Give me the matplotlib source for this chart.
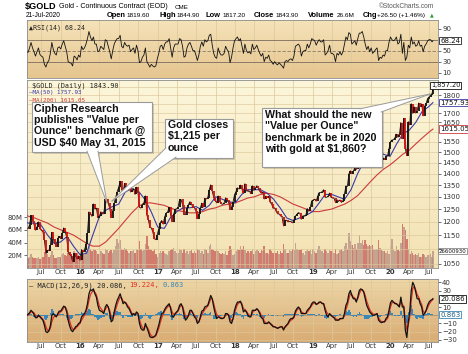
import matplotlib
matplotlib.use('Agg')
import matplotlib.pyplot as plt
import matplotlib.dates as mdates
from matplotlib.colors import LinearSegmentedColormap
from matplotlib.patches import Polygon, Rectangle
from matplotlib.ticker import FixedLocator, NullLocator
import numpy as np
import pandas as pd

# ---- data (weekly, Friday; last point is 21-Jul-2020) ----
close = [
    # 2015
    1175,
    1174, 1188, 1225, 1205, 1190,
    1168, 1180, 1200, 1173,
    1168, 1163, 1131, 1085, 1095,
    1094, 1113, 1160, 1134,
    1121, 1108, 1138, 1145,
    1137, 1156, 1177, 1163, 1142,
    1088, 1081, 1076, 1056,
    1085, 1076, 1065, 1076,
    # 2016
    1061, 1098, 1089, 1097, 1116,
    1158, 1239, 1231, 1221,
    1271, 1250, 1254, 1216,
    1221, 1239, 1235, 1231, 1290,
    1290, 1273, 1252, 1216,
    1242, 1275, 1297, 1322,
    1340, 1366, 1329, 1322, 1357,
    1344, 1342, 1346, 1320,
    1327, 1334, 1310, 1341, 1317,
    1257, 1254, 1267, 1276,
    1304, 1225, 1208, 1178,
    1177, 1161, 1137, 1133, 1152,
    # 2017
    1173, 1197, 1205, 1191,
    1220, 1234, 1239, 1257,
    1226, 1201, 1229, 1249, 1251,
    1257, 1289, 1289, 1268,
    1228, 1228, 1254, 1268,
    1280, 1271, 1256, 1256, 1242,
    1212, 1229, 1255, 1274,
    1258, 1294, 1291, 1297,
    1330, 1351, 1324, 1297, 1284,
    1275, 1304, 1280, 1272,
    1269, 1275, 1296, 1288,
    1280, 1248, 1257, 1278, 1309,
    # 2018
    1322, 1338, 1333, 1350,
    1333, 1315, 1356, 1330,
    1323, 1324, 1313, 1347, 1327,
    1336, 1347, 1336, 1323,
    1315, 1320, 1291, 1303,
    1297, 1302, 1278, 1270, 1253,
    1255, 1241, 1231, 1231,
    1223, 1219, 1184, 1206, 1206,
    1200, 1201, 1201, 1196,
    1207, 1222, 1229, 1236,
    1233, 1210, 1223, 1223, 1226,
    1252, 1241, 1258, 1283,
    # 2019
    1287, 1290, 1282, 1303,
    1318, 1318, 1322, 1330,
    1298, 1298, 1302, 1316, 1298,
    1295, 1295, 1276, 1288,
    1281, 1287, 1277, 1284, 1311,
    1346, 1344, 1399, 1413,
    1400, 1412, 1426, 1419,
    1457, 1509, 1523, 1537, 1529,
    1515, 1506, 1515, 1497,
    1512, 1489, 1494, 1505,
    1514, 1462, 1468, 1463, 1473,
    1465, 1481, 1481, 1515,
    # 2020
    1552, 1560, 1560, 1571, 1589,
    1573, 1586, 1649, 1566,
    1672, 1516, 1484, 1654,
    1637, 1752, 1698, 1735,
    1700, 1713, 1756, 1735, 1751,
    1685, 1737, 1753, 1781,
    1790, 1801, 1810, 1843.9,
]

volume_m = [
    # 2015
    14,
    16, 18, 22, 17, 15,
    16, 15, 18, 14,
    15, 17, 25, 32, 22,
    18, 20, 26, 20,
    16, 15, 18, 17,
    18, 22, 24, 20, 19,
    24, 22, 20, 18,
    26, 20, 24, 14,
    # 2016
    18, 24, 22, 20, 26,
    28, 38, 30, 26,
    30, 28, 26, 22,
    22, 26, 24, 22, 30,
    28, 24, 26, 28,
    24, 28, 34, 45,
    40, 44, 30, 28, 32,
    30, 26, 24, 26,
    26, 28, 24, 30, 28,
    42, 30, 26, 28,
    38, 50, 34, 30,
    28, 26, 30, 22, 18,
    # 2017
    24, 26, 24, 26,
    24, 22, 20, 26,
    28, 30, 32, 26, 24,
    24, 30, 28, 24,
    30, 24, 26, 22,
    26, 28, 24, 26, 24,
    30, 28, 24, 26,
    22, 30, 28, 24,
    34, 38, 30, 28, 26,
    28, 26, 24, 22,
    24, 22, 26, 20,
    26, 34, 30, 20, 22,
    # 2018
    26, 30, 28, 34,
    30, 34, 28, 24,
    26, 24, 26, 30, 22,
    26, 28, 26, 24,
    28, 26, 34, 24,
    24, 22, 30, 26, 24,
    26, 24, 26, 22,
    26, 24, 38, 30, 24,
    24, 28, 26, 30,
    28, 40, 30, 28,
    28, 30, 24, 20, 26,
    30, 26, 28, 22,
    # 2019
    30, 26, 24, 30,
    34, 28, 26, 24,
    30, 26, 24, 28, 26,
    26, 24, 30, 22,
    24, 28, 30, 26, 34,
    40, 30, 55, 42,
    36, 32, 38, 30,
    40, 52, 40, 44, 36,
    44, 38, 34, 36,
    34, 36, 30, 28,
    30, 44, 32, 28, 26,
    26, 24, 26, 22,
    # 2020
    34, 46, 30, 26, 34,
    28, 26, 40, 70,
    64, 60, 46, 30,
    22, 26, 24, 20,
    22, 20, 24, 18, 18,
    22, 20, 18, 20,
    20, 22, 18, 26.6,
]

rsi = [
    # 2015
    48,
    47, 55, 65, 55, 48,
    40, 48, 55, 43,
    40, 38, 25, 20, 28,
    32, 45, 65, 52,
    45, 42, 55, 57,
    53, 62, 68, 58, 48,
    30, 28, 27, 22,
    40, 38, 33, 42,
    # 2016
    38, 58, 52, 55, 62,
    72, 85, 75, 68,
    75, 62, 62, 48,
    50, 58, 55, 52, 70,
    68, 58, 48, 35,
    50, 62, 68, 72,
    72, 78, 58, 55, 65,
    60, 58, 60, 48,
    52, 55, 45, 60, 50,
    28, 30, 38, 42,
    55, 30, 25, 20,
    25, 22, 20, 22, 35,
    # 2017
    45, 58, 60, 52,
    62, 66, 66, 72,
    55, 38, 55, 62, 62,
    62, 72, 70, 58,
    38, 40, 55, 62,
    65, 58, 50, 50, 42,
    32, 42, 58, 66,
    58, 70, 66, 68,
    78, 80, 60, 45, 38,
    36, 55, 46, 42,
    42, 45, 58, 52,
    48, 28, 38, 55, 68,
    # 2018
    72, 75, 68, 72,
    58, 45, 62, 50,
    46, 48, 44, 62, 52,
    55, 60, 52, 45,
    40, 45, 30, 38,
    36, 42, 32, 30, 25,
    30, 26, 24, 28,
    25, 22, 18, 30, 32,
    30, 34, 35, 32,
    40, 58, 60, 62,
    58, 40, 48, 50, 50,
    62, 55, 62, 72,
    # 2019
    70, 68, 60, 66,
    70, 66, 66, 70,
    42, 45, 50, 60, 45,
    45, 42, 30, 45,
    42, 48, 42, 48, 62,
    75, 70, 83, 80,
    62, 65, 68, 60,
    72, 82, 82, 85, 75,
    62, 52, 58, 48,
    55, 45, 48, 52,
    55, 32, 38, 36, 42,
    40, 50, 50, 65,
    # 2020
    75, 70, 68, 70, 75,
    62, 65, 80, 45,
    65, 32, 38, 60,
    55, 75, 62, 66,
    58, 60, 68, 58, 60,
    48, 58, 62, 68,
    70, 70, 66, 68.24,
]

macd = [
    # 2015
    0,
    1, 3, 6, 4, 1,
    -3, -3, 0, -2,
    -4, -6, -12, -20, -21,
    -19, -13, 0, 2,
    0, -2, 2, 5,
    5, 8, 11, 10, 4,
    -6, -13, -18, -20,
    -17, -14, -13, -10,
    # 2016
    -9, -2, 0, 2, 6,
    14, 26, 31, 30,
    32, 26, 22, 12,
    6, 5, 4, 2, 10,
    13, 10, 2, -8,
    -6, 4, 12, 18,
    22, 26, 20, 14, 16,
    14, 10, 8, 4,
    0, 2, 0, 4, 2,
    -10, -16, -18, -18,
    -10, -15, -20, -26,
    -27, -27, -26, -24, -18,
    # 2017
    -12, -4, 2, 3,
    7, 10, 12, 14,
    8, -2, -2, 2, 4,
    6, 12, 14, 10,
    0, -6, -4, 0,
    6, 6, 2, -2, -4,
    -10, -8, -2, 5,
    6, 10, 11, 12,
    18, 24, 20, 10, 2,
    -4, -2, -3, -4,
    -4, -3, 2, 2,
    0, -8, -10, -4, 6,
    # 2018
    12, 16, 16, 17,
    12, 4, 6, 4,
    0, -2, -2, 6, 6,
    6, 8, 6, 2,
    -3, -4, -10, -10,
    -10, -8, -10, -12, -14,
    -14, -15, -16, -15,
    -14, -14, -18, -14, -12,
    -10, -6, -4, -4,
    -2, 5, 8, 10,
    8, 2, 2, 2, 2,
    6, 8, 10, 14,
    # 2019
    16, 16, 13, 14,
    16, 16, 14, 14,
    6, 0, -2, 2, 0,
    -2, -3, -6, -6,
    -6, -4, -4, -4, 2,
    12, 16, 26, 30,
    24, 20, 20, 16,
    22, 30, 32, 31, 28,
    20, 12, 8, 4,
    2, 0, 0, 1,
    2, -6, -8, -9, -8,
    -8, -4, -2, 6,
    # 2020
    15, 18, 16, 14, 14,
    12, 10, 22, 10,
    10, -18, -27, -8,
    5, 30, 40, 36,
    28, 20, 20, 14, 10,
    0, 2, 6, 12,
    16, 18, 19, 20.086,
]

signal = [
    # 2015
    0,
    0, 2, 4, 4, 3,
    0, -2, -1, -1,
    -3, -5, -8, -14, -18,
    -19, -16, -8, -3,
    -1, -1, 0, 3,
    4, 6, 9, 10, 7,
    0, -7, -13, -17,
    -17, -16, -14, -12,
    # 2016
    -10, -6, -3, 0, 3,
    9, 18, 25, 28,
    30, 28, 25, 18,
    11, 8, 6, 4, 7,
    10, 10, 6, -2,
    -4, 0, 7, 13,
    18, 22, 21, 17, 16,
    15, 12, 10, 6,
    2, 2, 1, 3, 2,
    -5, -11, -15, -17,
    -13, -14, -17, -22,
    -25, -26, -26, -25, -21,
    # 2017
    -16, -9, -3, 1,
    5, 8, 10, 12,
    10, 4, 1, 1, 3,
    5, 9, 12, 11,
    5, -1, -3, -1,
    3, 5, 3, 0, -2,
    -7, -8, -4, 1,
    4, 7, 9, 11,
    15, 20, 20, 14, 7,
    1, -1, -2, -3,
    -4, -3, 0, 1,
    1, -4, -7, -5, 2,
    # 2018
    8, 13, 15, 16,
    14, 8, 7, 5,
    2, 0, -1, 3, 5,
    6, 7, 6, 4,
    0, -2, -7, -9,
    -10, -9, -10, -11, -13,
    -14, -15, -15, -15,
    -14, -14, -16, -15, -13,
    -11, -8, -6, -5,
    -3, 2, 6, 8,
    8, 4, 3, 2, 2,
    4, 6, 9, 12,
    # 2019
    14, 15, 14, 14,
    15, 16, 15, 14,
    9, 4, 1, 1, 0,
    -1, -2, -4, -5,
    -6, -5, -4, -4, -1,
    7, 12, 20, 26,
    25, 22, 21, 18,
    20, 26, 30, 31, 29,
    24, 17, 12, 7,
    4, 2, 1, 1,
    2, -3, -6, -8, -8,
    -8, -6, -4, 2,
    # 2020
    10, 15, 16, 15, 14,
    13, 11, 17, 13,
    11, -6, -18, -12,
    -2, 18, 32, 35,
    31, 25, 22, 17, 13,
    5, 3, 5, 9,
    13, 16, 18, 19.224,
]

# moving averages
ma_dates = ([pd.Timestamp('2015-04-26')] +
            list(pd.date_range('2015-05-01', '2020-07-01', freq='MS')) +
            [pd.Timestamp('2020-07-21')])
ma50 = [1198,
        1195, 1195, 1188, 1150, 1120, 1125, 1145, 1110,
        1080, 1085, 1150, 1220, 1245, 1260, 1270, 1320, 1335, 1325, 1290, 1240,
        1180, 1175, 1215, 1240, 1255, 1255, 1260, 1245, 1265, 1300, 1290, 1280,
        1275, 1310, 1330, 1330, 1330, 1315, 1290, 1255, 1215, 1205, 1215, 1225,
        1240, 1275, 1310, 1310, 1300, 1290, 1330, 1400, 1460, 1505, 1505, 1490,
        1480, 1540, 1590, 1610, 1650, 1710, 1735, 1757.93]
ma200 = [1225,
         1222, 1215, 1205, 1195, 1180, 1170, 1160, 1150,
         1135, 1120, 1110, 1110, 1125, 1150, 1175, 1205, 1235, 1260, 1275, 1275,
         1270, 1265, 1255, 1245, 1240, 1235, 1235, 1240, 1250, 1255, 1265, 1270,
         1275, 1285, 1295, 1300, 1310, 1315, 1310, 1300, 1285, 1270, 1260, 1250,
         1240, 1240, 1245, 1250, 1260, 1270, 1285, 1305, 1335, 1365, 1395, 1420,
         1440, 1465, 1490, 1510, 1540, 1570, 1598, 1615.05]

dates = list(pd.date_range('2015-04-24', '2020-07-17', freq='W-FRI')) + [pd.Timestamp('2020-07-21')]

price_ticks = list(range(1050, 1851, 50))
price_hidden = [1100, 1600, 1750, 1850]      # covered by value boxes
rsi_ticks = [10, 30, 50, 90]
macd_ticks = [-30, -20, -10, 10, 30, 40]
vol_ticks = [20, 40, 60, 80]

# ---- layout ----
W, H = 468, 354
L, R = 27, 438


def rect(top, bottom):
    return [L / W, 1 - bottom / H, (R - L) / W, (bottom - top) / H]


def gradient(ax, top, bottom):
    cmap = LinearSegmentedColormap.from_list('g', [top, bottom])
    ax.imshow(np.linspace(0, 1, 128).reshape(-1, 1), cmap=cmap, aspect='auto',
              extent=[0, 1, 0, 1], transform=ax.transAxes, zorder=0)


x0 = pd.Timestamp('2015-04-26')
x1 = pd.Timestamp('2020-08-14')
quarters = pd.date_range('2015-07-01', '2020-07-01', freq='QS-JAN')
qlabels = [("%02d" % (d.year % 100)) if d.month == 1 else d.strftime('%b') for d in quarters]

grid_c = '#dcc89c'
tick_c = '#333333'


def style(ax, show_x):
    ax.set_xlim(x0, x1)
    for s in ax.spines.values():
        s.set_color('#8c8c8c')
        s.set_linewidth(0.6)
    for q in quarters:
        ax.axvline(q, color=grid_c, lw=0.5, zorder=1)
    if show_x:
        ax.xaxis.set_major_locator(FixedLocator(mdates.date2num(quarters)))
        ax.set_xticklabels(qlabels)
        for lab, d in zip(ax.get_xticklabels(), quarters):
            lab.set_fontweight('bold' if d.month == 1 else 'normal')
    else:
        ax.set_xticks([])
    ax.tick_params(axis='x', length=0, labelsize=5, colors=tick_c, pad=1.0)
    ax.yaxis.tick_right()
    ax.tick_params(axis='y', length=2, labelsize=5, colors=tick_c, pad=1, width=0.5)


def valbox(ax, y, text, ec, tc='#111111', dx=1.5, fs=5):
    ax.annotate(text, xy=(1, y), xycoords=('axes fraction', 'data'),
                xytext=(dx, 0), textcoords='offset points', va='center', ha='left',
                fontsize=fs, color=tc, zorder=20, annotation_clip=False,
                bbox=dict(boxstyle='square,pad=0.12', fc='white', ec=ec, lw=0.6))


fig = plt.figure(figsize=(W / 100, H / 100), dpi=100)
fig.patch.set_facecolor('white')

# ---- RSI ----
ax_r = fig.add_axes(rect(20, 78))
gradient(ax_r, '#f5e3b9', '#e6c58f')
ax_r.plot(dates, rsi, color='#111111', lw=0.6, zorder=3)
ax_r.axhline(70, color='#8a7a66', lw=0.7, zorder=2)
ax_r.axhline(30, color='#8a7a66', lw=0.7, zorder=2)
ax_r.axhline(50, color='#8a7a66', lw=0.6, ls=(0, (4, 2)), zorder=2)
ax_r.set_ylim(0, 106)
ax_r.yaxis.set_major_locator(FixedLocator(rsi_ticks))
style(ax_r, False)
ax_r.text(0.006, 0.93, '\u25b2RSI(14) 68.24', transform=ax_r.transAxes, fontsize=4.8,
          family='DejaVu Sans Mono', va='top', color='#222222', zorder=5)
valbox(ax_r, rsi[-1], '68.24', '#222222')

# ---- price + volume ----
ax_v = fig.add_axes(rect(80, 268))
gradient(ax_v, '#fcf6da', '#f3e2b3')
vol_col = ['#c65050' if i > 0 and close[i] < close[i - 1] else '#b08a80'
           for i in range(len(close))]
ax_v.bar(dates, volume_m, width=7, color=vol_col, alpha=0.7, zorder=2, lw=0)
ax_v.set_ylim(0, 296)
ax_v.set_xlim(x0, x1)
ax_v.set_xticks([])
ax_v.yaxis.set_major_locator(FixedLocator(vol_ticks))
ax_v.set_yticklabels(['%dM' % v for v in vol_ticks])
ax_v.tick_params(axis='y', length=2, labelsize=5, colors=tick_c, pad=1, width=0.5)
for s in ax_v.spines.values():
    s.set_visible(False)

ax_p = fig.add_axes(rect(80, 268))
ax_p.set_facecolor('none')
ax_p.set_yscale('log')
ax_p.set_ylim(1035, 1890)
ax_p.yaxis.set_major_locator(FixedLocator(price_ticks))
ax_p.yaxis.set_minor_locator(NullLocator())
ax_p.set_yticklabels(['' if p in price_hidden else str(p) for p in price_ticks])
for p in price_ticks:
    ax_p.axhline(p, color=grid_c, lw=0.45, zorder=1)
style(ax_p, True)
ax_p.plot(ma_dates, ma200, color='#cc3b3b', lw=0.8, zorder=3)
ax_p.plot(ma_dates, ma50, color='#3a3aa8', lw=0.8, zorder=3)
prev = [close[0]] + close[:-1]
body_c = ['#d01010' if c < p else '#111111' for c, p in zip(close, prev)]
ax_p.plot(dates, close, color='#111111', lw=0.6, zorder=4)
ax_p.vlines(dates, prev, close, colors=body_c, lw=1.3, zorder=5)

ax_p.text(0.012, 0.985, '$GOLD (Daily) 1843.90', transform=ax_p.transAxes, fontsize=4.9,
          family='DejaVu Sans Mono', va='top', color='#222222', zorder=6)
ax_p.text(0.006, 0.945, '\u2014MA(50) 1757.93', transform=ax_p.transAxes, fontsize=4.2,
          family='DejaVu Sans Mono', va='top', color='#3a3aa8', zorder=6)
ax_p.text(0.006, 0.905, '\u2014MA(200) 1615.05', transform=ax_p.transAxes, fontsize=4.2,
          family='DejaVu Sans Mono', va='top', color='#cc3b3b', zorder=6)
valbox(ax_p, 1857.2, '1,857.20', '#111111', dx=-5, fs=4.8)
valbox(ax_p, ma50[-1], '1757.93', '#3a3aa8')
valbox(ax_p, ma200[-1], '1615.05', '#cc3b3b')
valbox(ax_v, volume_m[-1], '26600930', '#888888', dx=0.6, fs=3.9)

# ---- MACD ----
ax_m = fig.add_axes(rect(279, 342))
gradient(ax_m, '#eed6a6', '#d9ac73')
hist = np.array(macd) - np.array(signal)
ax_m.bar(dates, hist, width=7, color='#3a86b4', zorder=2, lw=0)
ax_m.axhline(0, color='#8a7a66', lw=0.4, zorder=1)
for t in [-30, -20, -10, 10, 20, 30, 40]:
    ax_m.axhline(t, color=grid_c, lw=0.4, zorder=1)
ax_m.plot(dates, signal, color='#e03020', lw=0.9, zorder=3)
ax_m.plot(dates, macd, color='#111111', lw=0.9, zorder=4)
ax_m.set_ylim(-32.5, 44)
ax_m.yaxis.set_major_locator(FixedLocator(macd_ticks))
style(ax_m, True)
leg_y = 0.95
ax_m.text(0.004, leg_y, '\u2014 MACD(12,26,9) 20.086,', transform=ax_m.transAxes,
          fontsize=5, family='DejaVu Sans Mono', va='top', color='#222222', zorder=6)
ax_m.text(0.248, leg_y, '19.224,', transform=ax_m.transAxes,
          fontsize=5, family='DejaVu Sans Mono', va='top', color='#e03020', zorder=6)
ax_m.text(0.33, leg_y, '0.863', transform=ax_m.transAxes,
          fontsize=5, family='DejaVu Sans Mono', va='top', color='#3a86b4', zorder=6)
valbox(ax_m, macd[-1], '20.086', '#111111')
valbox(ax_m, hist[-1], '0.863', '#3a86b4', tc='#1d5f86')

# ---- overlay: header + callouts (figure pixel coords) ----
ov = fig.add_axes([0, 0, 1, 1], zorder=30)
ov.set_xlim(0, W)
ov.set_ylim(H, 0)
ov.axis('off')

ov.text(25, 7, '$GOLD', fontsize=6.6, fontweight='bold', va='center', family='Liberation Sans')
ov.text(59, 7, 'Gold - Continuous Contract (EOD)', fontsize=5.1, va='center', family='Liberation Sans')
ov.text(175, 7.3, 'CME', fontsize=4.5, va='center', family='Liberation Sans')
ov.text(379, 6, '\u00a9StockCharts.com', fontsize=4.8, va='center', color='#555555', family='Liberation Sans')
ov.text(26, 15.5, '21-Jul-2020', fontsize=4.8, va='center', family='Liberation Sans')
hdr = [(107, 'Open', True), (126, '1819.60', False), (159, 'High', True), (176, '1844.90', False),
       (206, 'Low', True), (222, '1817.20', False), (254, 'Close', True), (275, '1843.90', False),
       (308, 'Volume', True), (337, '26.6M', False), (363, 'Chg', True),
       (377, '+26.50 (+1.46%)', False)]
for x, s, b in hdr:
    ov.text(x, 15.5, s, fontsize=5.4 if b else 4.6, fontweight='bold' if b else 'normal',
            va='center', family='Liberation Sans')
ov.text(430, 15.2, '\u25b2', fontsize=3.5, va='center', color='#2a9a2a')


def callout(bx0, by0, bx1, by1, text, base, tip, tx, ty):
    ov.add_patch(Rectangle((bx0 + 1.5, by0 + 1.5), bx1 - bx0, by1 - by0, fc='#00000028', ec='none'))
    ov.add_patch(Rectangle((bx0, by0), bx1 - bx0, by1 - by0, fc='white', ec='#9a9a9a', lw=0.8))
    ov.add_patch(Polygon([base[0], base[1], tip], closed=True, fc='white', ec='none'))
    ov.plot([base[0][0], tip[0]], [base[0][1], tip[1]], color='#9a9a9a', lw=0.7)
    ov.plot([base[1][0], tip[0]], [base[1][1], tip[1]], color='#9a9a9a', lw=0.7)
    ov.text(tx, ty, text, fontsize=7.7, fontweight='bold', family='Liberation Sans',
            va='top', ha='left', linespacing=1.17, color='#111111')


callout(32, 102, 152, 152,
        'Cipher Research\npublishes "Value per\nOunce" benchmark @\nUSD $40 May 31, 2015',
        [(87, 151.2), (98, 151.2)], (107, 203), 34, 103.5)
callout(165, 119, 233, 158,
        'Gold closes\n$1,215 per\nounce',
        [(165.8, 148), (176, 157.2)], (112, 201), 168, 120)
callout(262, 108, 382, 167,
        'What should the new\n"Value per Ounce"\nbenchmark be in 2020\nwith gold at $1,860?',
        [(360, 108.8), (381.2, 112)], (430, 94), 265, 110)

fig.savefig('out.png', dpi=100)
